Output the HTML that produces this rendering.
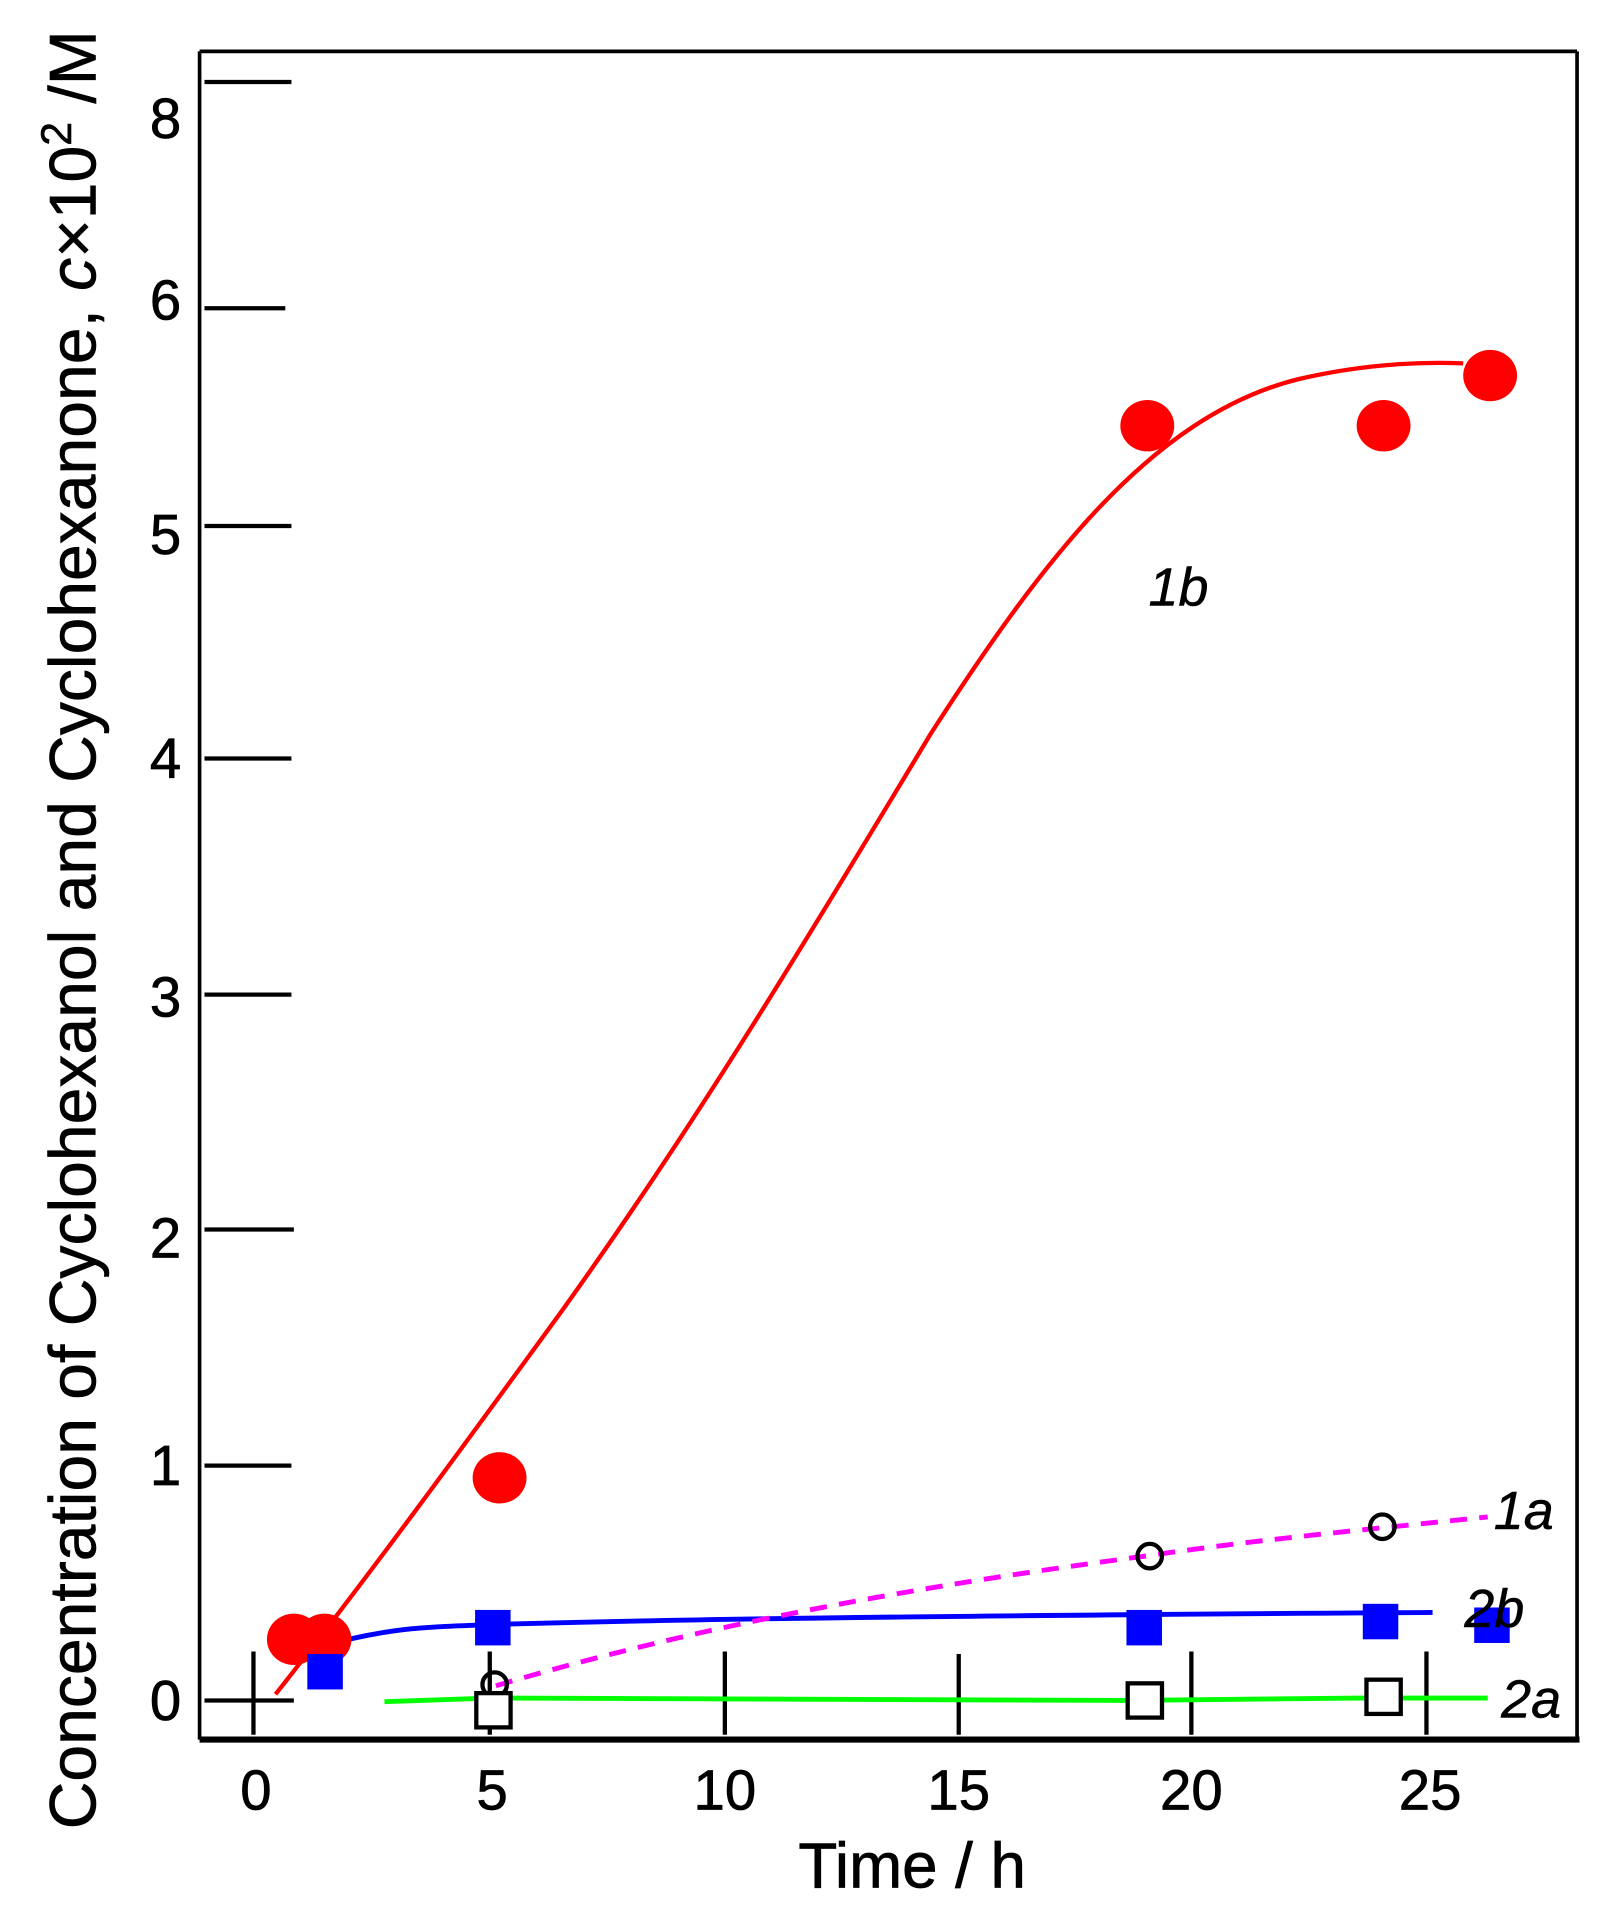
<!DOCTYPE html>
<html><head><style>html,body{margin:0;padding:0;background:#fff}svg{display:block}</style></head>
<body>
<svg width="1604" height="1917" viewBox="0 0 1310 1567" preserveAspectRatio="none" xmlns="http://www.w3.org/2000/svg" font-family="Liberation Sans, Arial, sans-serif">
<rect width="1310" height="1567" fill="#fff"/>
<!-- frame -->
<line x1="163" y1="42" x2="1288" y2="42" stroke="#000" stroke-width="3"/>
<line x1="1288" y1="42" x2="1288" y2="1422" stroke="#000" stroke-width="3"/>
<line x1="163" y1="42" x2="163" y2="1422" stroke="#000" stroke-width="3"/>
<line x1="163" y1="1422" x2="1290" y2="1422" stroke="#000" stroke-width="5"/>
<!-- ticks -->
<g stroke="#000" stroke-width="3.5">
<line x1="167" y1="67" x2="238" y2="67"/>
<line x1="167" y1="252" x2="233" y2="252"/>
<line x1="167" y1="430" x2="238" y2="430"/>
<line x1="167" y1="620" x2="238" y2="620"/>
<line x1="167" y1="813" x2="238" y2="813"/>
<line x1="167" y1="1005" x2="240" y2="1005"/>
<line x1="167" y1="1198" x2="238" y2="1198"/>
<line x1="167" y1="1390" x2="240" y2="1390"/>
<line x1="207" y1="1350" x2="207" y2="1418"/>
<line x1="400" y1="1350" x2="400" y2="1418"/>
<line x1="592" y1="1350" x2="592" y2="1418"/>
<line x1="783" y1="1352" x2="783" y2="1418"/>
<line x1="973" y1="1350" x2="973" y2="1418"/>
<line x1="1165" y1="1350" x2="1165" y2="1418"/>
</g>
<g font-size="46" text-anchor="end" fill="#000" stroke="#000" stroke-width="0.6">
<text x="148" y="113">8</text>
<text x="148" y="261">6</text>
<text x="148" y="453">5</text>
<text x="148" y="636">4</text>
<text x="148" y="831">3</text>
<text x="148" y="1028">2</text>
<text x="148" y="1214">1</text>
<text x="148" y="1406">0</text>
</g>
<g font-size="46" text-anchor="middle" fill="#000" stroke="#000" stroke-width="0.6">
<text x="209" y="1479">0</text>
<text x="402" y="1479">5</text>
<text x="592" y="1479">10</text>
<text x="783" y="1479">15</text>
<text x="973" y="1479">20</text>
<text x="1168" y="1479">25</text>
</g>
<text x="745" y="1543" font-size="52" text-anchor="middle" stroke="#000" stroke-width="0.6">Time / h</text>
<text transform="translate(78,760) rotate(-90)" font-size="54" text-anchor="middle" stroke="#000" stroke-width="0.5">Concentration of Cyclohexanol and Cyclohexanone, <tspan font-style="italic">c</tspan>×10<tspan dy="-20" font-size="35">2</tspan><tspan dy="20"> /M</tspan></text>
<!-- curves -->
<path d="M225,1385 C300,1290 380,1180 460,1070 C560,930 640,800 760,600 C850,460 940,340 1060,310 C1120,296 1170,296 1195,297" fill="none" stroke="#f00" stroke-width="3.5"/>
<path d="M265,1345 C320,1330 350,1330 400,1328 C600,1322 900,1320 1170,1318" fill="none" stroke="#00f" stroke-width="4"/>
<path d="M405,1378 C600,1320 800,1290 935,1272 C1030,1258 1120,1250 1215,1240" fill="none" stroke="#f0f" stroke-width="4" stroke-dasharray="14,10"/>
<path d="M314,1391 L400,1388 L920,1390 L1110,1388 L1215,1388" fill="none" stroke="#0f0" stroke-width="4"/>
<!-- markers -->
<g fill="#f00">
<ellipse cx="240" cy="1340" rx="22" ry="21"/><ellipse cx="265" cy="1340" rx="22" ry="21"/>
<ellipse cx="408" cy="1208" rx="22" ry="21"/><ellipse cx="937" cy="348" rx="22" ry="21"/>
<ellipse cx="1130" cy="348" rx="22" ry="21"/><ellipse cx="1217" cy="307" rx="22" ry="21"/>
</g>
<g fill="#00f">
<rect x="251" y="1352" width="29" height="29"/><rect x="388" y="1316" width="29" height="29"/>
<rect x="920" y="1316" width="29" height="29"/><rect x="1113" y="1311" width="29" height="29"/>
<rect x="1204" y="1314" width="29" height="29"/>
</g>
<g fill="none" stroke="#000" stroke-width="3.5">
<circle cx="404" cy="1377" r="10"/><circle cx="939" cy="1272" r="10"/><circle cx="1129" cy="1248" r="10"/>
</g>
<g fill="#fff" stroke="#000" stroke-width="3.5">
<rect x="389" y="1384" width="28" height="28"/><rect x="921" y="1376" width="28" height="28"/><rect x="1116" y="1373" width="28" height="28"/>
</g>
<g font-size="44" font-style="italic" fill="#000" stroke="#000" stroke-width="0.4">
<text x="938" y="495">1b</text>
<text x="1220" y="1250">1a</text>
<text x="1196" y="1330">2b</text>
<text x="1226" y="1404">2a</text>
</g>
</svg>
</body></html>
